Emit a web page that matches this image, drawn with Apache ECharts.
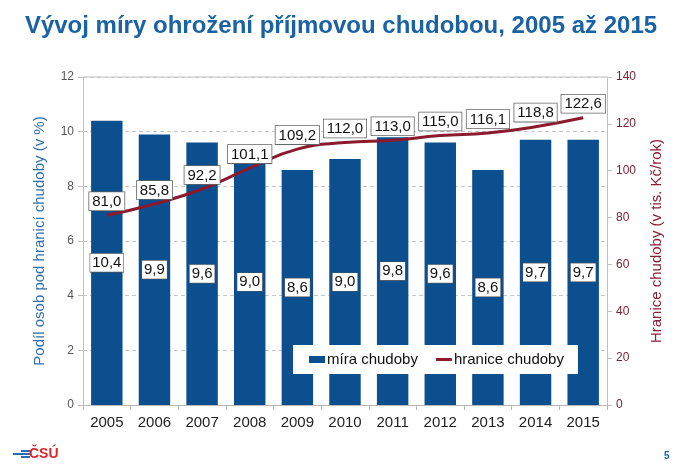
<!DOCTYPE html>
<html>
<head>
<meta charset="utf-8">
<script src="https://cdn.jsdelivr.net/npm/echarts@6/dist/echarts.min.js"></script>
<style>
html,body{margin:0;padding:0;background:#fff;}
#c{width:682px;height:465px;}
</style>
</head>
<body>
<div id="c"></div>
<script>
const years = ['2005','2006','2007','2008','2009','2010','2011','2012','2013','2014','2015'];
const miraChudoby = [10.4, 9.9, 9.6, 9.0, 8.6, 9.0, 9.8, 9.6, 8.6, 9.7, 9.7];
const hraniceChudoby = [81.0, 85.8, 92.2, 101.1, 109.2, 112.0, 113.0, 115.0, 116.1, 118.8, 122.6];
const leftTicks = [0, 2, 4, 6, 8, 10, 12];
const rightTicks = [0, 20, 40, 60, 80, 100, 120, 140];

const fmt = v => Number(v).toFixed(1).replace('.', ',');
const font = '"Liberation Sans", Arial, sans-serif';

const chart = echarts.init(document.getElementById('c'), null, {renderer: 'canvas'});
chart.setOption({
  animation: false,
  backgroundColor: '#fff',
  textStyle: {fontFamily: font},
  title: {
    text: 'Vývoj míry ohrožení příjmovou chudobou, 2005 až 2015',
    left: 'center',
    top: 9,
    textStyle: {fontFamily: font, fontSize: 24, fontWeight: 'bold', color: '#1a62a3'}
  },
  grid: {left: 83, right: 75, top: 77, bottom: 60, containLabel: false},
  legend: {
    left: 293, top: 345,
    width: 287,
    padding: [7, 14, 7, 16],
    backgroundColor: '#fff',
    itemWidth: 16, itemHeight: 7, itemGap: 18,
    textStyle: {fontFamily: font, fontSize: 15, color: '#111', padding: [0, 0, 0, -3]},
    data: [
      {name: 'míra chudoby', icon: 'rect'},
      {name: 'hranice chudoby', icon: 'path://M0,0H16V3H0Z', itemStyle: {color: '#8b1a2e'}}
    ]
  },
  xAxis: {
    type: 'category',
    data: years,
    boundaryGap: true,
    axisLine: {lineStyle: {color: '#b8b8b8'}},
    axisTick: {show: true, alignWithLabel: false, length: 5, lineStyle: {color: '#b8b8b8'}},
    axisLabel: {fontFamily: font, fontSize: 15, color: '#222', margin: 10}
  },
  yAxis: [
    {
      type: 'value', min: leftTicks[0], max: leftTicks[leftTicks.length - 1], interval: 2,
      name: 'Podíl osob pod hranicí chudoby (v %)',
      nameLocation: 'middle', nameGap: 36, nameRotate: 90,
      nameTextStyle: {fontFamily: font, fontSize: 15, color: '#2f6fae'},
      axisLine: {show: true, lineStyle: {color: '#c0c0c0'}},
      axisTick: {show: true, length: 5, lineStyle: {color: '#c0c0c0'}},
      axisLabel: {fontFamily: font, fontSize: 12, color: '#555', margin: 9},
      splitLine: {show: true, lineStyle: {color: '#c8c8c8', type: [4, 3]}}
    },
    {
      type: 'value', min: rightTicks[0], max: rightTicks[rightTicks.length - 1], interval: 20,
      name: 'Hranice chudoby (v tis. Kč/rok)',
      nameLocation: 'middle', nameGap: 42, nameRotate: 90,
      nameTextStyle: {fontFamily: font, fontSize: 15, color: '#8a1f32'},
      axisLine: {show: true, lineStyle: {color: '#c0c0c0'}},
      axisTick: {show: true, length: 5, lineStyle: {color: '#c0c0c0'}},
      axisLabel: {fontFamily: font, fontSize: 12, color: '#7a2333', margin: 9},
      splitLine: {show: false}
    }
  ],
  graphic: [
    {type: 'line', shape: {x1: 83, y1: 77, x2: 607, y2: 77}, style: {stroke: '#c0c0c0', lineWidth: 1}},
    {type: 'rect', shape: {x: 21, y: 450, width: 9, height: 2}, style: {fill: '#2a6db5'}},
    {type: 'rect', shape: {x: 13, y: 453, width: 17, height: 2}, style: {fill: '#2a6db5'}},
    {type: 'rect', shape: {x: 21, y: 456, width: 9, height: 2}, style: {fill: '#2a6db5'}},
    {type: 'text', left: 29, top: 447, style: {text: 'ČSÚ', fill: '#d6262e', font: 'bold 14px ' + font}},
    {type: 'text', left: 664, top: 451, style: {text: '5', fill: '#1a62a3', font: 'bold 10px ' + font}}
  ],
  series: [
    {
      name: 'míra chudoby',
      type: 'bar',
      yAxisIndex: 0,
      data: miraChudoby,
      barWidth: '66%',
      itemStyle: {color: '#0b4f8f'},
      label: {
        show: true, position: 'inside',
        formatter: p => fmt(p.value),
        fontFamily: font, fontSize: 15, color: '#111',
        backgroundColor: '#fff', borderColor: '#555', borderWidth: 0.6,
        padding: [2, 2, 1, 2]
      },
      z: 2
    },
    {
      name: 'hranice chudoby',
      type: 'line',
      yAxisIndex: 1,
      data: hraniceChudoby,
      smooth: true,
      symbol: 'circle',
      symbolSize: 0.1,
      showSymbol: true,
      lineStyle: {color: '#8b1a2e', width: 3},
      itemStyle: {color: '#8b1a2e'},
      label: {
        show: true, position: 'top', distance: 5,
        formatter: p => fmt(p.value),
        fontFamily: font, fontSize: 15, color: '#111',
        backgroundColor: '#fff', borderColor: '#666', borderWidth: 0.8,
        padding: [2, 3, 1, 3]
      },
      z: 3
    }
  ]
});
</script>
</body>
</html>
